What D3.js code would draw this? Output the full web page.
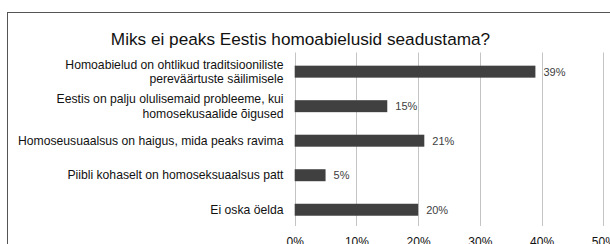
<!DOCTYPE html>
<html>
<head>
<meta charset="utf-8">
<script src="https://cdn.jsdelivr.net/npm/d3@7"></script>
<style>
  body { margin: 0; background: #fff; }
  svg { display: block; }
</style>
</head>
<body>
<script>
// data
const categories = [
    ["Homoabielud on ohtlikud traditsiooniliste", "pereväärtuste säilimisele"],
    ["Eestis on palju olulisemaid probleeme, kui", "homosekusaalide õigused"],
    ["Homoseusuaalsus on haigus, mida peaks ravima"],
    ["Piibli kohaselt on homoseksuaalsus patt"],
    ["Ei oska öelda"]
];
const values = [0.39, 0.15, 0.21, 0.05, 0.20];
const tickValues = [0, 0.1, 0.2, 0.3, 0.4, 0.5];
const title = "Miks ei peaks Eestis homoabielusid seadustama?";

const width = 610;
const height = 244;
const margin = { top: 54.4, bottom: 17, left: 294.7, right: 7 };

const svg = d3.select('body').append('svg')
    .attr('width', width)
    .attr('height', height)
    .style('font-family', '"Liberation Sans", Arial, sans-serif');

// chart border
svg.append('rect')
    .attr('x', 7.5).attr('y', 12.5)
    .attr('width', 700).attr('height', 300)
    .attr('fill', 'none')
    .attr('stroke', '#555')
    .attr('stroke-width', 1);

svg.append('text')
    .attr('x', 300.5).attr('y', 44.5)
    .attr('text-anchor', 'middle')
    .attr('font-size', 17.2)
    .attr('fill', '#111')
    .text(title);

const xScale = d3.scaleLinear()
    .domain([0, 0.5])
    .range([margin.left, 603.3]);

const yScale = d3.scaleBand()
    .domain(d3.range(values.length))
    .range([margin.top, height - margin.bottom])
    .paddingInner(0.653)
    .paddingOuter(0.3265);

// gridlines
svg.append('g')
    .selectAll('line')
    .data(tickValues)
    .enter()
    .append('line')
    .attr('x1', d => Math.round(xScale(d)) + 0.5)
    .attr('x2', d => Math.round(xScale(d)) + 0.5)
    .attr('y1', 52.5)
    .attr('y2', 226)
    .attr('stroke', '#c4c4c4')
    .attr('stroke-width', 1);

// x axis labels (bottom edge crops them, as in the original)
const xAxis = d3.axisBottom(xScale)
    .tickValues(tickValues)
    .tickFormat(d3.format('.0%'))
    .tickSize(0)
    .tickPadding(0);
const gx = svg.append('g')
    .attr('transform', `translate(0,237)`)
    .call(xAxis);
gx.select('.domain').remove();
gx.selectAll('text')
    .attr('font-size', 12)
    .attr('font-family', '"Liberation Sans", Arial, sans-serif')
    .attr('fill', '#111');

// bars
svg.append('g')
    .selectAll('rect')
    .data(values)
    .enter()
    .append('rect')
    .attr('x', xScale(0))
    .attr('y', (d, i) => yScale(i))
    .attr('width', d => xScale(d) - xScale(0))
    .attr('height', yScale.bandwidth())
    .attr('fill', '#404040');

// value labels
svg.append('g')
    .selectAll('text')
    .data(values)
    .enter()
    .append('text')
    .attr('x', d => xScale(d) + 8)
    .attr('y', (d, i) => yScale(i) + yScale.bandwidth() / 2)
    .attr('dy', '0.35em')
    .attr('font-size', 11)
    .attr('fill', '#404040')
    .text(d => Math.round(d * 100) + '%');

// category labels
const labels = svg.append('g')
    .selectAll('text')
    .data(categories)
    .enter()
    .append('text')
    .attr('text-anchor', 'end')
    .attr('font-size', 12.2)
    .attr('fill', '#111')
    .attr('y', (d, i) => yScale(i) + yScale.bandwidth() / 2);

labels.selectAll('tspan')
    .data(d => d.map((t, j) => ({ t, j, n: d.length })))
    .enter()
    .append('tspan')
    .attr('x', 283.5)
    .attr('dy', d => d.j === 0 ? (0.35 - (d.n - 1) * 0.58) + 'em' : '1.16em')
    .text(d => d.t);
</script>
</body>
</html>
